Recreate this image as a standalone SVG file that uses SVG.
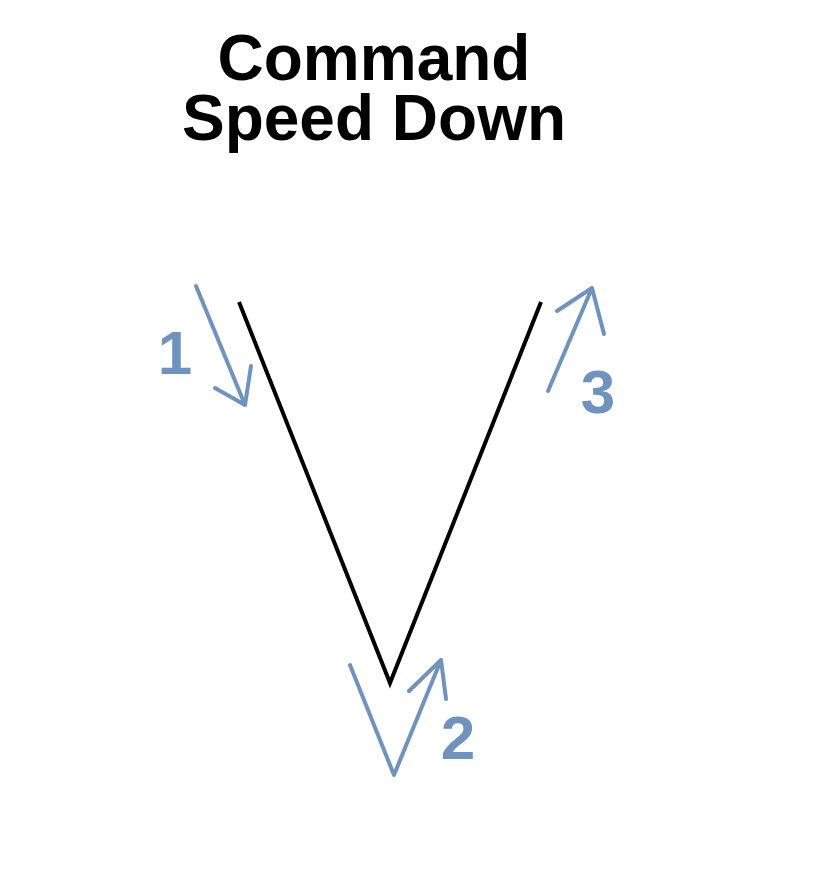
<svg xmlns="http://www.w3.org/2000/svg" width="826" height="886" viewBox="0 0 826 886">
<style>
.title{font-family:"Liberation Sans",Arial,sans-serif;font-weight:bold;font-size:64px;fill:#000;text-anchor:middle}
.num{font-family:"Liberation Sans",Arial,sans-serif;font-weight:bold;font-size:62px;fill:#7092be;text-anchor:middle}
.arr{fill:none;stroke:#7092be;stroke-width:4;stroke-linecap:round;stroke-linejoin:round}
.v{fill:none;stroke:#000;stroke-width:4;stroke-linejoin:miter}
</style>
<rect width="826" height="886" fill="#fff"/>
<g id="title">
<text class="title" x="374" y="80">Command</text>
<text class="title" x="374" y="140">Speed Down</text>
</g>
<g id="v-shape">
<path class="v" d="M239,302 L390,683 L541,302"/>
</g>
<g id="connectors">
<path class="arr" d="M196,286 L245,405 M215,388 L245,405 L251,366"/>
<path class="arr" d="M548,391 L592,288 M557,311 L592,288 L604,334"/>
<path class="arr" d="M350,665 L394,775 L441,660 M409,691 L441,660 L446,699"/>
</g>
<g id="label1"><text class="num" x="175" y="374">1</text></g>
<g id="label2"><text class="num" x="458" y="759">2</text></g>
<g id="label3"><text class="num" x="598" y="413">3</text></g>
</svg>
